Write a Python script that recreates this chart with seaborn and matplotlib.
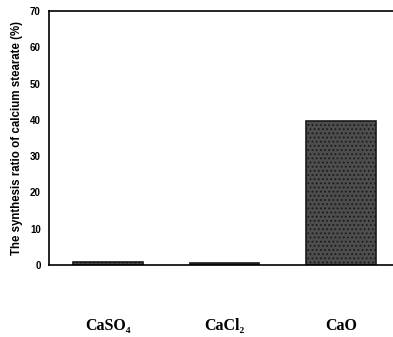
import numpy as np
import pandas as pd
import matplotlib
matplotlib.use("Agg")
import matplotlib.pyplot as plt
import seaborn as sns

# data
catalysts = ['CaSO₄', 'CaCl₂', 'CaO']
ratio = [0.9, 0.4, 39.6]

df = pd.DataFrame({'catalyst': catalysts, 'ratio': ratio})

sns.set_style('white')
plt.rcParams['font.family'] = ['Liberation Sans', 'DejaVu Sans']
plt.rcParams['hatch.color'] = '#c8c8c8'
plt.rcParams['hatch.linewidth'] = 0.8
plt.rcParams['text.color'] = 'black'
plt.rcParams['axes.labelcolor'] = 'black'
plt.rcParams['xtick.color'] = 'black'
plt.rcParams['ytick.color'] = 'black'

fig = plt.figure(figsize=(3.93, 3.37), dpi=100)
ax = fig.add_axes([0.125, 0.214, 0.875, 0.753])

sns.barplot(data=df, x='catalyst', y='ratio', color='#4d4d4d', width=0.6,
            edgecolor='black', linewidth=1.2, ax=ax)
for p in ax.patches:
    p.set_hatch('....')
    p.set_edgecolor('#1a1a1a')

ax.set_ylim(0, 70)
ax.set_yticks(range(0, 71, 10))
ax.set_xlim(-0.506, 2.447)
ax.set_xlabel('')
ax.set_ylabel('The synthesis ratio of calcium stearate (%)', fontsize=8.3,
              fontweight='bold', labelpad=5)

for s in ['left', 'top', 'bottom']:
    ax.spines[s].set_color('black')
    ax.spines[s].set_linewidth(1.2)
ax.spines['right'].set_visible(False)

ax.tick_params(axis='y', direction='out', length=3, width=1, labelsize=7, pad=3)
for t in ax.get_yticklabels():
    t.set_fontweight('bold')
ax.tick_params(axis='x', length=0, pad=38)
for t in ax.get_xticklabels():
    t.set_fontfamily(['Liberation Serif', 'DejaVu Serif'])
    t.set_fontsize(11.5)
    t.set_fontweight('semibold')

fig.savefig('out.png', dpi=100, facecolor='white')
